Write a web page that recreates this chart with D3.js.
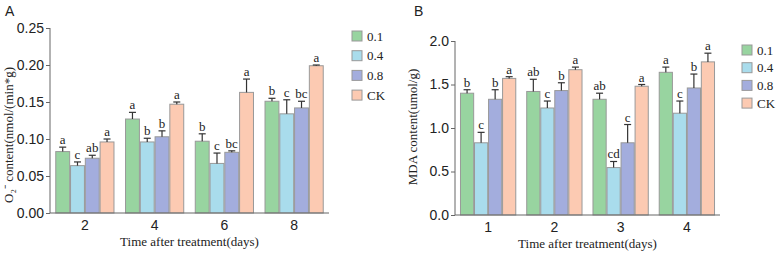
<!DOCTYPE html>
<html>
<head>
<meta charset="utf-8">
<script src="https://cdn.jsdelivr.net/npm/d3@7"></script>
<style>
  body { margin: 0; background: #fff; }
  svg text { fill: #222; }
  .tick-lab { font-family: "Liberation Sans", Arial, sans-serif; font-size: 14px; }
  .serif { font-family: "Liberation Serif", "Times New Roman", serif; }
</style>
</head>
<body>
<svg id="chart" width="777" height="257"></svg>
<script>
// series + colours
var seriesNames = ["0.1", "0.4", "0.8", "CK"];
var seriesColors = ["#98d4a0", "#a9dcec", "#a3addd", "#fccab2"];

// panel A: O2- content, days 2..8
var daysA = ["2", "4", "6", "8"];
var o2Mean = [
  [0.083, 0.127, 0.097, 0.151],
  [0.064, 0.096, 0.067, 0.134],
  [0.074, 0.103, 0.082, 0.142],
  [0.096, 0.147, 0.163, 0.199]
];
var o2Err = [
  [0.006, 0.009, 0.010, 0.004],
  [0.005, 0.005, 0.014, 0.019],
  [0.004, 0.008, 0.002, 0.009],
  [0.004, 0.003, 0.018, 0.001]
];
var o2Letters = [
  ["a", "a", "b", "b"],
  ["c", "b", "c", "c"],
  ["ab", "b", "bc", "bc"],
  ["a", "a", "a", "a"]
];
var o2Ticks = [0, 0.05, 0.10, 0.15, 0.20, 0.25];

// panel B: MDA content, days 1..4
var daysB = ["1", "2", "3", "4"];
var mdaMean = [
  [1.40, 1.42, 1.33, 1.64],
  [0.83, 1.23, 0.545, 1.17],
  [1.33, 1.43, 0.83, 1.46],
  [1.57, 1.67, 1.48, 1.76]
];
var mdaErr = [
  [0.04, 0.14, 0.07, 0.06],
  [0.12, 0.08, 0.07, 0.14],
  [0.11, 0.09, 0.21, 0.16],
  [0.02, 0.03, 0.02, 0.10]
];
var mdaLetters = [
  ["b", "ab", "ab", "a"],
  ["c", "c", "cd", "c"],
  ["b", "b", "c", "b"],
  ["a", "a", "a", "a"]
];
var mdaTicks = [0, 0.5, 1.0, 1.5, 2.0];

var svg = d3.select("#chart");

function drawPanel(opt) {
  var g = svg.append("g");

  var x = d3.scaleBand().domain(opt.days).range([opt.x0, opt.x1])
    .paddingInner(0.14).paddingOuter(0.07);
  var xs = d3.scaleBand().domain(seriesNames).range([0, x.bandwidth()]).padding(0.06);
  var y = d3.scaleLinear().domain([0, opt.yMax]).range([opt.yBase, opt.yTop]);

  // flatten into one list of bars
  var bars = [];
  seriesNames.forEach(function (s, i) {
    opt.days.forEach(function (d, j) {
      bars.push({ s: s, i: i, day: d, v: opt.mean[i][j], e: opt.err[i][j], lab: opt.letters[i][j] });
    });
  });

  g.selectAll("rect.bar").data(bars).enter().append("rect")
    .attr("class", "bar")
    .attr("x", function (d) { return x(d.day) + xs(d.s); })
    .attr("y", function (d) { return y(d.v); })
    .attr("width", xs.bandwidth())
    .attr("height", function (d) { return y(0) - y(d.v); })
    .attr("fill", function (d) { return seriesColors[d.i]; })
    .attr("stroke", "#999")
    .attr("stroke-width", 1);

  // error bars (upper only)
  var cx = function (d) { return x(d.day) + xs(d.s) + xs.bandwidth() / 2; };
  g.selectAll("line.err").data(bars).enter().append("line")
    .attr("x1", cx).attr("x2", cx)
    .attr("y1", function (d) { return y(d.v); })
    .attr("y2", function (d) { return y(d.v + d.e); })
    .attr("stroke", "#333").attr("stroke-width", 1.2);
  g.selectAll("line.cap").data(bars).enter().append("line")
    .attr("x1", function (d) { return cx(d) - 3.5; })
    .attr("x2", function (d) { return cx(d) + 3.5; })
    .attr("y1", function (d) { return y(d.v + d.e); })
    .attr("y2", function (d) { return y(d.v + d.e); })
    .attr("stroke", "#333").attr("stroke-width", 1.2);

  // significance letters
  g.selectAll("text.sig").data(bars).enter().append("text")
    .attr("class", "serif")
    .attr("x", cx)
    .attr("y", function (d) { return y(d.v + d.e) - 3; })
    .attr("text-anchor", "middle")
    .style("font-size", "13px")
    .text(function (d) { return d.lab; });

  // y axis
  var yAxis = g.append("g")
    .attr("transform", "translate(" + opt.x0 + ",0)")
    .call(d3.axisLeft(y).tickValues(opt.ticks).tickSize(4).tickPadding(2)
      .tickFormat(d3.format(opt.fmt)));
  yAxis.selectAll("text").attr("class", "tick-lab").attr("fill", "#222");
  yAxis.selectAll("line").attr("stroke", "#666");
  yAxis.select(".domain").attr("stroke", "#666").attr("d", "M0," + opt.yBase + "V" + opt.yTop);

  // x axis
  var xAxis = g.append("g")
    .attr("transform", "translate(0," + opt.yBase + ")")
    .call(d3.axisBottom(x).tickSize(0).tickPadding(7));
  xAxis.selectAll("text").attr("class", "tick-lab").attr("fill", "#222");
  xAxis.select(".domain").attr("stroke", "#666").attr("d", "M" + opt.x0 + ",0H" + opt.x1);

  // axis titles
  g.append("text").attr("class", "serif")
    .attr("x", (opt.x0 + opt.x1) / 2 + opt.xLabShift).attr("y", opt.yBase + 33)
    .attr("text-anchor", "middle").style("font-size", "13px")
    .text("Time after treatment(days)");

  g.append("text").attr("class", "serif")
    .attr("transform", "translate(" + opt.yLabX + "," + opt.yLabY + ") rotate(-90)")
    .attr("text-anchor", "middle").style("font-size", "13px")
    .text(opt.yLabel);

  // panel letter
  g.append("text")
    .attr("x", opt.tagX).attr("y", 16)
    .style("font-family", "Liberation Sans, Arial, sans-serif").style("font-size", "14px")
    .text(opt.tag);

  // legend
  var leg = g.selectAll("g.leg").data(seriesNames).enter().append("g")
    .attr("transform", function (d, i) { return "translate(" + opt.legX + "," + (opt.legY + i * opt.legStep) + ")"; });
  leg.append("rect").attr("x", 0).attr("y", -5).attr("width", 10).attr("height", 10)
    .attr("fill", function (d, i) { return seriesColors[i]; })
    .attr("stroke", "#999");
  leg.append("text").attr("class", "serif")
    .attr("x", 15).attr("y", 4.5).style("font-size", "13px")
    .text(function (d) { return d; });
}

drawPanel({
  days: daysA, mean: o2Mean, err: o2Err, letters: o2Letters, ticks: o2Ticks, fmt: ".2f",
  x0: 50, x1: 329, yBase: 213, yTop: 28, yMax: 0.25,
  yLabel: "O\u2082\u207B content(nmol/(min*g)", yLabX: 13, yLabY: 135, xLabShift: 0,
  tag: "A", tagX: 5, legX: 352, legY: 36, legStep: 19.7
});

drawPanel({
  days: daysB, mean: mdaMean, err: mdaErr, letters: mdaLetters, ticks: mdaTicks, fmt: ".1f",
  x0: 455, x1: 720, yBase: 215, yTop: 41, yMax: 2.0,
  yLabel: "MDA content(umol/g)", yLabX: 417, yLabY: 127, xLabShift: 0,
  tag: "B", tagX: 414, legX: 742, legY: 50, legStep: 17.7
});
</script>
</body>
</html>
